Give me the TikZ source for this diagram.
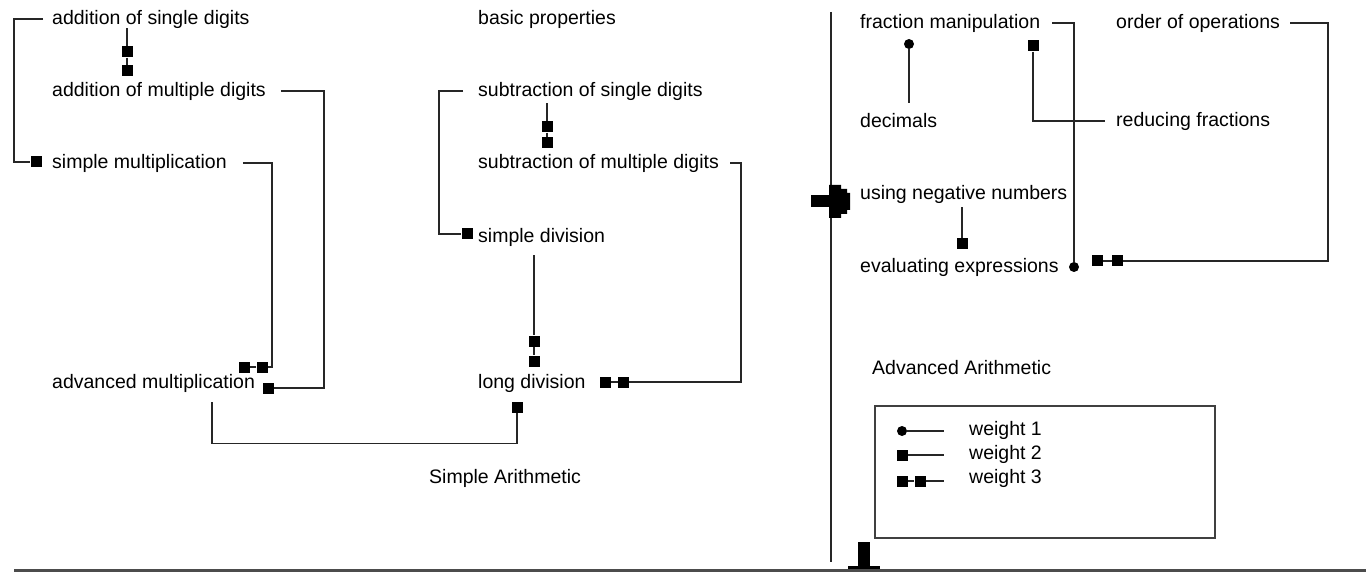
\documentclass[tikz,border=0pt]{standalone}
\usepackage{fontspec}
\setmainfont{Liberation Sans}
\usetikzlibrary{calc,positioning}
\tikzset{
every node/.style={inner sep=0pt}, % markers and labels sit tight
topic/.style={anchor=west, font=\fontsize{19.5}{22}\selectfont, text=black}, % skill labels
sq/.style={rectangle, fill=black, minimum size=11pt}, % square marker
dot/.style={circle, fill=black, minimum size=10pt}, % round marker
link/.style={line width=1.3pt, black!85}, % connectors
}

\begin{document}
\begin{tikzpicture}[x=1pt,y=-1pt]
  \useasboundingbox (0,0) rectangle (1366,572);

  % simple arithmetic labels
  \node[topic] (asd) at (52,19) {addition of single digits};
  \node[topic] (amd) at (52,91) {addition of multiple digits};
  \node[topic] (smul) at (52,163) {simple multiplication};
  \node[topic] (amul) at (52,383) {advanced multiplication};
  \node[topic] (bprop) at (478,19) {basic properties};
  \node[topic] (ssd) at (478,91) {subtraction of single digits};
  \node[topic] (smd) at (478,163) {subtraction of multiple digits};
  \node[topic] (sdiv) at (478,237) {simple division};
  \node[topic] (ldiv) at (478,383) {long division};
  \node[topic] (sa) at (429,478) {Simple Arithmetic};

  % advanced arithmetic labels
  \node[topic] (fm) at (860,23) {fraction manipulation};
  \node[topic] (oo) at (1116,23) {order of operations};
  \node[topic] (dec) at (860,121) {decimals};
  \node[topic] (rf) at (1116,121) {reducing fractions};
  \node[topic] (unn) at (860,194) {using negative numbers};
  \node[topic] (ee) at (860,267) {evaluating expressions};
  \node[topic] (aa) at (872,368) {Advanced Arithmetic};

  % markers
  \node[sq] (m1) at (36,162) {};
  \node[sq] (m2a) at (127,52) {};
  \node[sq] (m2b) at (127,71) {};
  \node[sq] (m3) at (268,388) {};
  \node[sq] (m4a) at (244,367) {};
  \node[sq] (m4b) at (262,367) {};
  \node[sq] (m5) at (517,407) {};
  \node[sq] (m6) at (467,234) {};
  \node[sq] (m7a) at (547,127) {};
  \node[sq] (m7b) at (547,143) {};
  \node[sq] (m8a) at (605,382) {};
  \node[sq] (m8b) at (623.5,382) {};
  \node[sq] (m9a) at (534,341) {};
  \node[sq] (m9b) at (534,361) {};
  \node[dot] (m10) at (909,44) {};
  \node[sq] (m11) at (1033,46) {};
  \node[dot] (m12) at (1074,267) {};
  \node[sq] (m13a) at (1097.5,261) {};
  \node[sq] (m13b) at (1117.5,261) {};
  \node[sq] (m14) at (962,244) {};

  % connectors
  \draw[link] ([xshift=-9]asd.west) -- ++(-29,0) |- (m1);
  \draw[link] (m2a |- asd.south) -- (m2a) -- (m2b);
  \draw[link] ([xshift=15]amd.east) -| ([xshift=56]m3.center) -- (m3);
  \draw[link] ([xshift=16]smul.east) -| ([xshift=10]m4b.center) -- (m4b) -- (m4a);
  \draw[link] ($(amul.south west)+(160,10)$) -- ++(0,41) -| (m5);
  \draw[link] ([xshift=-15]ssd.west) -- ++(-24,0) |- (m6);
  \draw[link] ($(m7a |- ssd.south)+(0,3)$) -- (m7a) -- (m7b);
  \draw[link] ([xshift=11]smd.east) -| ([xshift=117.5]m8b.center) -- (m8b) -- (m8a);
  \draw[link] ($(m9a |- sdiv.south)+(0,9)$) -- (m9a) -- (m9b);
  \draw[link] (m10) -- ($(m10 |- dec.north)+(0,-11)$);
  \draw[link] (m11) |- ([xshift=-11]rf.west);
  \draw[link] ([xshift=12]fm.east) -| (m12);
  \draw[link] ([xshift=10]oo.east) -| ([xshift=210.5]m13b.center) -- (m13b) -- (m13a);
  \draw[link] ($(m14 |- unn.south)+(0,4)$) -- (m14);

  % divider with its end pieces
  \coordinate (dtop) at (831,12);
  \coordinate (dbot) at (831,562);
  \draw[link] (dtop) -- (dbot);
  \fill (811,195) rectangle (832,207);
  \fill (829,185) -- (841,185) -- (841,189) -- (847,189) -- (847,193) -- (850,193) -- (850,210)
    -- (847,210) -- (847,214) -- (841,214) -- (841,218) -- (829,218) -- cycle;
  \fill (858,542) rectangle (870,568);
  \fill (848,566) rectangle (880,572);
  \draw[line width=2.5pt, black!70] (14,570.5) -- (1366,570.5);

  % legend
  \node[draw=black!75, line width=1.5pt, anchor=north west, minimum width=340pt, minimum height=132pt] (legend) at (874,405) {};
  \node[dot] (l1) at (902,431) {};
  \node[sq] (l2) at (902,455) {};
  \node[sq] (l3a) at (902,481) {};
  \node[sq] (l3b) at (920,481) {};
  \coordinate (e1) at (944,431);
  \coordinate (e2) at (944,455);
  \coordinate (e3) at (944,481);
  \node[topic] (w1) at (969,430) {weight 1};
  \node[topic] (w2) at (969,454) {weight 2};
  \node[topic] (w3) at (969,478) {weight 3};
  \draw[link] (l1) -- (e1);
  \draw[link] (l2) -- (e2);
  \draw[link] (l3a) -- (l3b) -- (e3);
\end{tikzpicture}
\end{document}
